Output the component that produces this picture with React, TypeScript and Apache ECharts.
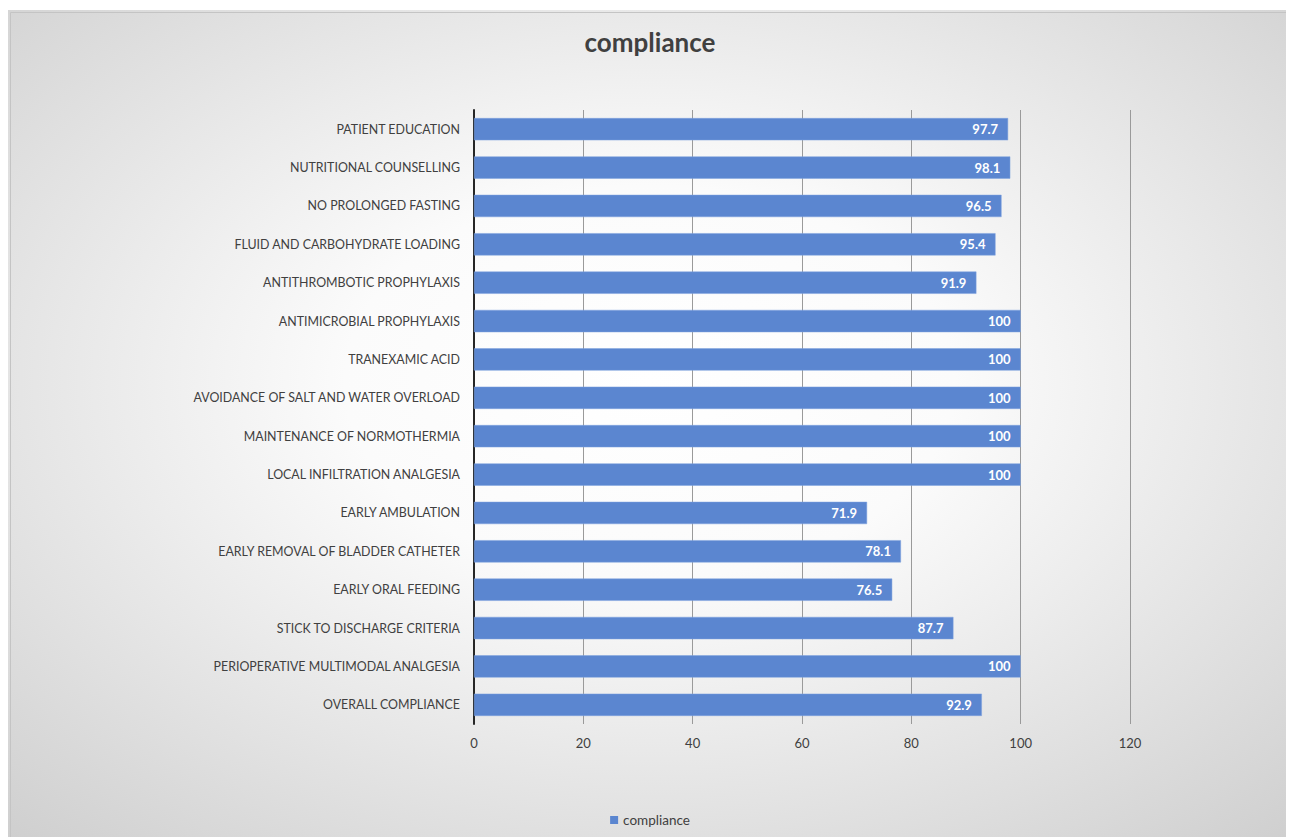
import React, { useEffect, useRef } from "react";
import * as echarts from "echarts";

const categories = [
  "OVERALL COMPLIANCE",
  "PERIOPERATIVE MULTIMODAL ANALGESIA",
  "STICK TO DISCHARGE CRITERIA",
  "EARLY ORAL FEEDING",
  "EARLY REMOVAL OF BLADDER CATHETER",
  "EARLY AMBULATION",
  "LOCAL INFILTRATION ANALGESIA",
  "MAINTENANCE OF NORMOTHERMIA",
  "AVOIDANCE OF SALT AND WATER OVERLOAD",
  "TRANEXAMIC ACID",
  "ANTIMICROBIAL PROPHYLAXIS",
  "ANTITHROMBOTIC PROPHYLAXIS",
  "FLUID AND CARBOHYDRATE LOADING",
  "NO PROLONGED FASTING",
  "NUTRITIONAL COUNSELLING",
  "PATIENT EDUCATION",
];
const complianceValues = [92.9, 100, 87.7, 76.5, 78.1, 71.9, 100, 100, 100, 100, 100, 91.9, 95.4, 96.5, 98.1, 97.7];
const seriesName = "compliance";
const titleText = "compliance";

const FONT = "Lato, 'Open Sans', sans-serif";

export default function App() {
  const ref = useRef<HTMLDivElement>(null);
  useEffect(() => {
    if (!ref.current) return;
    const chart = echarts.init(ref.current, undefined, { renderer: "svg" });
    chart.setOption({
      animation: false,
      backgroundColor: {
        type: "radial",
        x: 0.5,
        y: 0.45,
        r: 0.95,
        colorStops: [
          { offset: 0, color: "#ffffff" },
          { offset: 0.25, color: "#fbfbfb" },
          { offset: 1, color: "#bdbdbd" },
        ],
      },
      graphic: [
        {
          type: "rect",
          left: 0,
          top: 0,
          shape: { width: 1284, height: 827 },
          style: { fill: "none", stroke: "#c4c4c4", lineWidth: 1 },
          silent: true,
        },
      ],
      title: {
        text: titleText,
        left: "center",
        top: 14,
        textStyle: { fontFamily: FONT, fontSize: 26, fontWeight: "bold", color: "#404040" },
      },
      legend: {
        bottom: 5,
        left: "center",
        itemWidth: 8,
        itemHeight: 8,
        itemGap: 4,
        icon: "rect",
        itemStyle: { borderWidth: 0 },
        textStyle: { fontFamily: FONT, fontSize: 13.5, color: "#404040" },
        data: [seriesName],
      },
      grid: { left: 466, right: 162, top: 100, bottom: 113, containLabel: false },
      xAxis: {
        type: "value",
        min: 0,
        max: 120,
        interval: 20,
        axisLine: { show: false },
        axisTick: { show: false },
        axisLabel: { fontFamily: FONT, fontSize: 13, color: "#404040", margin: 12 },
        splitLine: { show: true, lineStyle: { color: "#9a9a9a", width: 1 } },
      },
      yAxis: {
        type: "category",
        data: categories,
        axisLine: { show: true, lineStyle: { color: "#262626", width: 2 } },
        axisTick: { show: false },
        axisLabel: { fontFamily: FONT, fontSize: 12.4, color: "#404040", margin: 14 },
      },
      series: [
        {
          name: seriesName,
          type: "bar",
          data: complianceValues,
          barCategoryGap: "42%",
          itemStyle: { color: "#5b86d0", borderColor: "#7fa2de", borderWidth: 0.5 },
          label: {
            show: true,
            position: "insideRight",
            distance: 10,
            color: "#ffffff",
            fontWeight: "bold",
            fontSize: 13,
            fontFamily: FONT,
          },
        },
      ],
    });
    return () => chart.dispose();
  }, []);
  return <div ref={ref} style={{ width: 1284, height: 827, marginTop: 2 }} />;
}
